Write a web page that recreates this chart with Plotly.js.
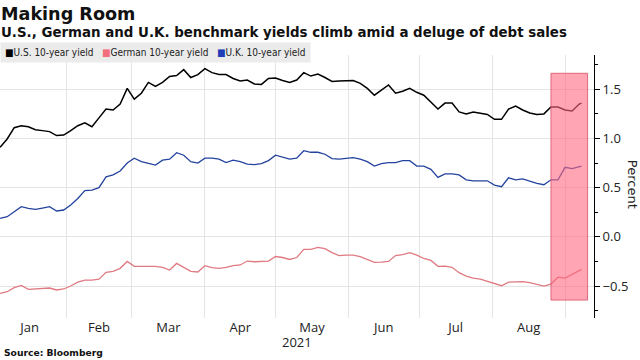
<!DOCTYPE html>
<html>
<head>
<meta charset="utf-8">
<script src="https://cdn.plot.ly/plotly-3.0.1.min.js"></script>
<style>html,body{margin:0;padding:0;background:#fff;}#chart{width:640px;height:360px;}</style>
</head>
<body>
<div id="chart"></div>
<script>
var dates = ['2021-01-04','2021-01-07','2021-01-10','2021-01-13','2021-01-16','2021-01-19','2021-01-22','2021-01-25','2021-01-28','2021-01-31',
'2021-02-03','2021-02-06','2021-02-09','2021-02-12','2021-02-15','2021-02-18','2021-02-21','2021-02-24','2021-02-27',
'2021-03-02','2021-03-05','2021-03-08','2021-03-11','2021-03-14','2021-03-17','2021-03-20','2021-03-23','2021-03-26','2021-03-29',
'2021-04-01','2021-04-04','2021-04-07','2021-04-10','2021-04-13','2021-04-16','2021-04-19','2021-04-22','2021-04-25','2021-04-28',
'2021-05-01','2021-05-04','2021-05-07','2021-05-10','2021-05-13','2021-05-16','2021-05-19','2021-05-22','2021-05-25','2021-05-28','2021-05-31',
'2021-06-03','2021-06-06','2021-06-09','2021-06-12','2021-06-15','2021-06-18','2021-06-21','2021-06-24','2021-06-27','2021-06-30',
'2021-07-03','2021-07-06','2021-07-09','2021-07-12','2021-07-15','2021-07-18','2021-07-21','2021-07-24','2021-07-27','2021-07-30',
'2021-08-02','2021-08-05','2021-08-08','2021-08-11','2021-08-14','2021-08-17','2021-08-20','2021-08-23','2021-08-26','2021-08-29',
'2021-09-01','2021-09-04','2021-09-07','2021-09-08'];

var usYield = [0.91,0.995,1.11,1.13,1.12,1.09,1.08,1.07,1.03,1.035,
1.08,1.13,1.16,1.12,1.21,1.30,1.29,1.35,1.51,
1.40,1.46,1.57,1.53,1.57,1.63,1.64,1.70,1.62,1.65,
1.71,1.67,1.65,1.65,1.61,1.585,1.595,1.555,1.55,1.61,
1.615,1.59,1.57,1.595,1.67,1.635,1.655,1.62,1.58,1.585,1.59,
1.59,1.56,1.51,1.44,1.49,1.545,1.46,1.48,1.51,1.47,
1.44,1.375,1.30,1.36,1.36,1.27,1.25,1.27,1.255,1.245,
1.195,1.195,1.30,1.33,1.29,1.26,1.245,1.25,1.32,1.32,
1.29,1.28,1.35,1.36];

var germanYield = [-0.575,-0.558,-0.517,-0.493,-0.534,-0.527,-0.524,-0.52,-0.54,-0.53,
-0.50,-0.46,-0.44,-0.44,-0.43,-0.36,-0.35,-0.32,-0.25,
-0.30,-0.30,-0.30,-0.30,-0.31,-0.337,-0.27,-0.307,-0.35,-0.357,
-0.293,-0.313,-0.32,-0.31,-0.293,-0.286,-0.246,-0.253,-0.253,-0.246,
-0.20,-0.21,-0.23,-0.21,-0.127,-0.127,-0.107,-0.12,-0.16,-0.19,-0.185,
-0.185,-0.20,-0.23,-0.26,-0.256,-0.25,-0.19,-0.18,-0.16,-0.185,
-0.22,-0.24,-0.30,-0.297,-0.31,-0.364,-0.40,-0.42,-0.43,-0.45,
-0.47,-0.497,-0.46,-0.456,-0.456,-0.466,-0.48,-0.50,-0.48,-0.41,
-0.42,-0.378,-0.337,-0.33];

var ukYield = [0.188,0.205,0.256,0.307,0.29,0.28,0.293,0.307,0.263,0.273,
0.324,0.39,0.47,0.476,0.50,0.61,0.63,0.67,0.75,
0.80,0.765,0.75,0.73,0.78,0.79,0.856,0.83,0.765,0.75,
0.80,0.80,0.79,0.755,0.78,0.765,0.74,0.735,0.745,0.775,
0.83,0.81,0.79,0.80,0.876,0.86,0.86,0.84,0.795,0.79,0.80,
0.805,0.79,0.765,0.72,0.744,0.754,0.754,0.775,0.775,0.72,
0.72,0.686,0.605,0.64,0.64,0.63,0.58,0.57,0.567,0.57,
0.527,0.51,0.60,0.58,0.59,0.567,0.544,0.53,0.58,0.58,
0.707,0.693,0.713,0.72];

var seriesNames = ['U.S. 10-year yield','German 10-year yield','U.K. 10-year yield'];
var seriesColors = ['#000000','#e07a82','#23439e'];
var legendColors = ['#000000','#f2707e','#1f3fb8'];
var yTickVals = [-0.5,0,0.5,1.0,1.5];
var highlightStart = '2021-08-26';
var highlightEnd = '2021-09-10 14:00';
var highlightLow = -0.643, highlightHigh = 1.663;

var FONT = 'Open Sans, sans-serif';
var HEAD = 'DejaVu Sans, sans-serif';
var COND = 'DejaVu Sans Condensed, DejaVu Sans, sans-serif';

var traces = [
  {x: dates, y: usYield, name: seriesNames[0], type: 'scatter', mode: 'lines', line: {color: seriesColors[0], width: 1.5}},
  {x: dates, y: germanYield, name: seriesNames[1], type: 'scatter', mode: 'lines', line: {color: seriesColors[1], width: 1.3}},
  {x: dates, y: ukYield, name: seriesNames[2], type: 'scatter', mode: 'lines', line: {color: seriesColors[2], width: 1.3}}
];

var legendText = seriesNames.map(function(n, i){
  return '<span style="color:' + legendColors[i] + '">■</span>' + n;
}).join('&nbsp;&nbsp;&nbsp;');

var layout = {
  width: 640, height: 360,
  margin: {l: 0, r: 46, t: 55, b: 42},
  paper_bgcolor: '#ffffff', plot_bgcolor: '#ffffff',
  showlegend: false,
  font: {family: FONT, color: '#222'},
  xaxis: {
    type: 'date',
    range: ['2021-01-03 23:00', '2021-09-13 07:00'],
    tick0: '2021-01-01', dtick: 'M1',
    ticklabelmode: 'period', tickformat: '%b',
    showgrid: true, gridcolor: '#e4e4e4', gridwidth: 1,
    zeroline: false, showline: false, ticks: '',
    tickfont: {family: FONT, size: 13, color: '#222'}
  },
  yaxis: {
    side: 'right',
    range: [-0.825, 1.849],
    tickvals: yTickVals, tickformat: '.1f',
    showgrid: true, gridcolor: '#e4e4e4', gridwidth: 1,
    zeroline: false,
    showline: true, linecolor: '#000', linewidth: 1,
    ticks: 'outside', ticklen: 5, tickcolor: '#000', tickwidth: 1,
    minor: {dtick: 0.25, tick0: 0, ticks: 'outside', ticklen: 3, tickcolor: '#000', showgrid: false},
    tickfont: {family: FONT, size: 13, color: '#222'}
  },
  shapes: [{
    type: 'rect', xref: 'x', yref: 'y', layer: 'above',
    x0: highlightStart, x1: highlightEnd, y0: highlightLow, y1: highlightHigh,
    fillcolor: 'rgba(255,105,130,0.6)',
    line: {color: 'rgba(215,80,100,0.8)', width: 1}
  }],
  annotations: [
    {text: '<b>Making Room</b>', xref: 'paper', yref: 'paper', x: 0, y: 1.155, xanchor: 'left', yanchor: 'middle', showarrow: false, borderpad: 0, font: {family: HEAD, size: 17.6, color: '#111'}},
    {text: '<b>U.S., German and U.K. benchmark yields climb amid a deluge of debt sales</b>', xref: 'paper', yref: 'paper', x: 0, y: 1.084, xanchor: 'left', yanchor: 'middle', showarrow: false, borderpad: 0, font: {family: HEAD, size: 13.4, color: '#111'}},
    {text: legendText, xref: 'paper', yref: 'paper', x: 0, y: 1.0095, xanchor: 'left', yanchor: 'middle', showarrow: false, bgcolor: '#ebebeb', borderpad: 4, font: {family: COND, size: 10, color: '#222'}},
    {text: 'Percent', xref: 'paper', yref: 'paper', x: 1, xshift: 38, y: 0.51, xanchor: 'center', yanchor: 'middle', textangle: 90, showarrow: false, font: {family: HEAD, size: 13, color: '#222'}},
    {text: '2021', xref: 'paper', yref: 'paper', x: 0.5, y: -0.093, xanchor: 'center', yanchor: 'middle', showarrow: false, font: {family: FONT, size: 13, color: '#222'}},
    {text: '<b>Source: Bloomberg</b>', xref: 'paper', yref: 'paper', x: 0, xshift: 2, y: -0.133, xanchor: 'left', yanchor: 'middle', showarrow: false, font: {family: HEAD, size: 9.2, color: '#111'}}
  ]
};

Plotly.newPlot('chart', traces, layout, {displayModeBar: false, staticPlot: true});
</script>
</body>
</html>
